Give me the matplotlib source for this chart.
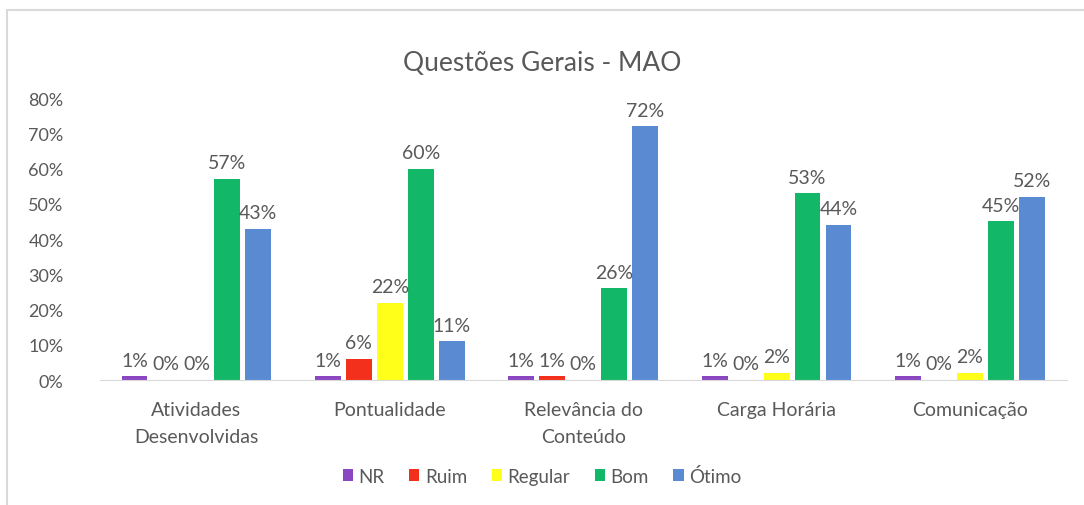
import matplotlib.pyplot as plt
import numpy as np
from matplotlib.patches import Rectangle

plt.rcParams['font.family'] = ['Lato', 'DejaVu Sans']

categories = ['Atividades\nDesenvolvidas', 'Pontualidade', 'Relevância do\nConteúdo',
              'Carga Horária', 'Comunicação']
series = ['NR', 'Ruim', 'Regular', 'Bom', 'Ótimo']
nr = [1, 1, 1, 1, 1]
ruim = [0, 6, 1, 0, 0]
regular = [0, 22, 0, 2, 2]
bom = [57, 60, 26, 53, 45]
otimo = [43, 11, 72, 44, 52]
colors = ['#8B47C2', '#F2301B', '#FFFF1A', '#12B867', '#5A8BD2']

values = [nr, ruim, regular, bom, otimo]
gray = '#595959'

fig = plt.figure(figsize=(10.84, 5.06), dpi=100)
ax = fig.add_axes([0.092, 0.247, 0.892, 0.557])

x = np.arange(len(categories))
step = 0.16
width = 0.134
for i, (name, vals, c) in enumerate(zip(series, values, colors)):
    pos = x + (i - 2) * step
    v = np.array(vals) / 100
    ax.bar(pos, v, width, color=c, label=name)
    for px, pv in zip(pos, vals):
        ax.text(px, pv / 100 + 0.022, '%d%%' % pv, ha='center', va='bottom',
                fontsize=14, color=gray)

ax.set_ylim(0, 0.8)
ax.set_xlim(-0.5, len(categories) - 0.5)
ax.set_yticks(np.arange(0, 0.81, 0.1))
ax.set_yticklabels(['%d%%' % (t * 100) for t in np.arange(0, 0.81, 0.1).round(1)])
ax.set_xticks(x)
ax.set_xticklabels(categories, fontsize=14, color=gray, linespacing=1.7)
ax.tick_params(axis='y', length=0, labelsize=13, labelcolor=gray, pad=26)
ax.tick_params(axis='x', length=0, pad=15)
for s in ['top', 'right', 'left']:
    ax.spines[s].set_visible(False)
ax.spines['bottom'].set_color('#d9d9d9')

fig.suptitle('Questões Gerais - MAO', y=0.9, fontsize=19, color=gray)
fig.legend(loc='center', bbox_to_anchor=(0.5, 0.058), ncol=5, frameon=False,
           fontsize=13.5, labelcolor=gray, handlelength=0.55, handleheight=0.55,
           handletextpad=0.3, columnspacing=1.3)

fig.patches.append(Rectangle((0.006, -0.01), 1.0, 0.988, transform=fig.transFigure,
                             fill=False, edgecolor='#d9d9d9', linewidth=1.5))

fig.savefig('out.png', dpi=100)
